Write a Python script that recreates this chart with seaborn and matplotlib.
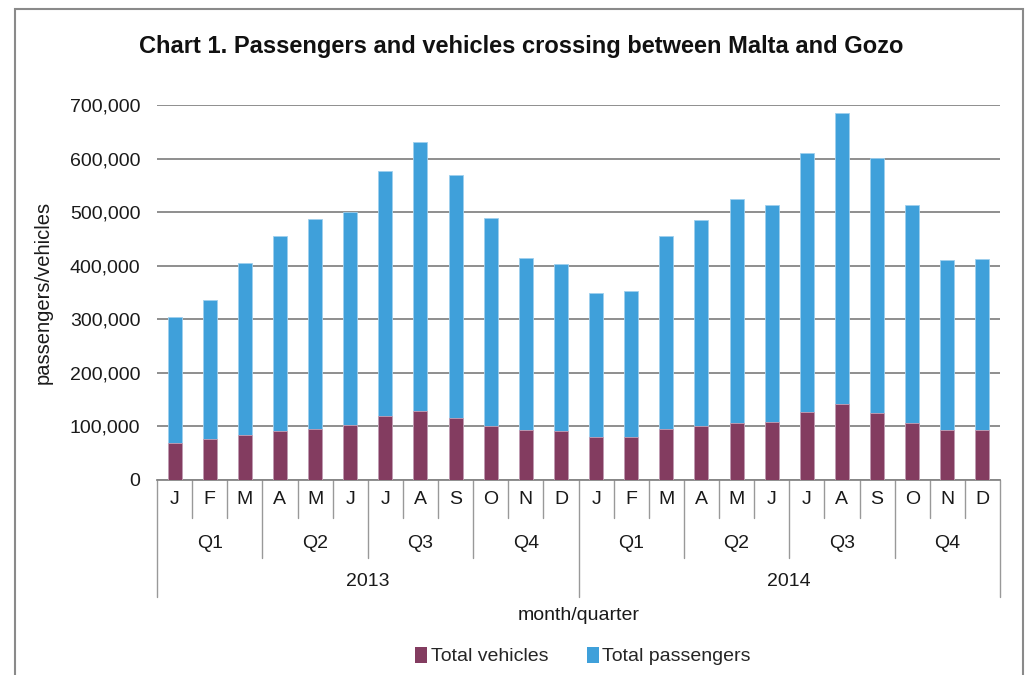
import matplotlib
matplotlib.use("Agg")
import matplotlib.pyplot as plt
import seaborn as sns
import pandas as pd
import numpy as np
from matplotlib.patches import Rectangle, Patch
from matplotlib.lines import Line2D
from matplotlib import font_manager

months = ["J", "F", "M", "A", "M", "J", "J", "A", "S", "O", "N", "D"] * 2
quarters = ["Q1", "Q2", "Q3", "Q4"]
years = ["2013", "2014"]
vehicles = [70000, 76000, 84000, 91000, 95000, 102000, 120000, 129000, 116000, 100000, 93000, 91000,
            80000, 81000, 96000, 100000, 107000, 108000, 127000, 142000, 125000, 106000, 94000, 94000]
totals_top = [305000, 336000, 405000, 455000, 487000, 500000, 577000, 631000, 569000, 490000, 415000, 403000,
              350000, 352000, 455000, 485000, 525000, 514000, 611000, 686000, 601000, 513000, 411000, 413000]
passengers = [t - v for t, v in zip(totals_top, vehicles)]

sns.set_theme(style="white")
names = {f.name for f in font_manager.fontManager.ttflist}
fam = "Liberation Sans Narrow" if "Liberation Sans Narrow" in names else "Liberation Sans"
plt.rcParams["font.family"] = [fam, "DejaVu Sans"]

C_VEH = "#833C60"
C_PAS = "#3FA0DA"
GRID = "#868686"
TXT = "#1a1a1a"
FS = 14

fig = plt.figure(figsize=(10.3, 6.75), dpi=100)
ax = fig.add_axes([157/1030, 1-480/675, (1000-157)/1030, 375/675])

idx = [f"{i}" for i in range(len(months))]
df = pd.DataFrame({"k": idx, "veh": vehicles, "pas": passengers})
df["tot"] = df["veh"] + df["pas"]

sns.barplot(data=df, x="k", y="tot", color=C_PAS, width=0.4, saturation=1,
            edgecolor="#9fd0ee", linewidth=0.6, ax=ax, zorder=2)
sns.barplot(data=df, x="k", y="veh", color=C_VEH, width=0.4, saturation=1,
            edgecolor="#c9a0b4", linewidth=0.6, ax=ax, zorder=3)

ax.set_xlim(-0.5, len(months) - 0.5)
ax.set_ylim(0, 700000)
ax.set_yticks(np.arange(0, 700001, 100000))
ax.set_yticklabels([f"{int(v):,}" for v in np.arange(0, 700001, 100000)], fontsize=FS, color=TXT)
ax.yaxis.grid(True, color=GRID, linewidth=1.3, zorder=0)
ax.set_axisbelow(True)
ax.tick_params(axis="y", length=0, pad=12)
ax.set_xticks([])
ax.set_xlabel("")
ax.set_ylabel("passengers/vehicles", fontsize=FS + 0.5, color=TXT, labelpad=12)
for s in ["left", "right", "top"]:
    ax.spines[s].set_visible(False)
ax.spines["bottom"].set_color(GRID)
ax.spines["bottom"].set_linewidth(1.3)

trans = ax.get_xaxis_transform()
H = 375.0
row_m = -38 / H
row_q = -78 / H
row_y = -117 / H
lc = "#999999"
for i in range(len(months) + 1):
    b = i - 0.5
    if i % 12 == 0:
        y1 = row_y
    elif i % 3 == 0:
        y1 = row_q
    else:
        y1 = row_m
    ax.add_line(Line2D([b, b], [0, y1], transform=trans, color=lc, lw=1, clip_on=False))
for i, m in enumerate(months):
    ax.text(i, -20 / H, m, transform=trans, ha="center", va="center", fontsize=FS, color=TXT)
for yi in range(2):
    for qi, q in enumerate(quarters):
        c = yi * 12 + qi * 3 + 1
        ax.text(c, -64 / H, q, transform=trans, ha="center", va="center", fontsize=FS, color=TXT)
    ax.text(yi * 12 + 5.5, -102 / H, years[yi], transform=trans, ha="center", va="center",
            fontsize=FS, color=TXT)
ax.text(11.5, -136 / H, "month/quarter", transform=trans, ha="center", va="center",
        fontsize=FS, color=TXT)

fig.text(521/1030, 1 - 46/675, "Chart 1. Passengers and vehicles crossing between Malta and Gozo",
         ha="center", va="center", fontsize=17, fontweight="bold", color="#111111")

handles = [Patch(facecolor=C_VEH, edgecolor="none"), Patch(facecolor=C_PAS, edgecolor="none")]
fig.legend(handles, ["Total vehicles", "Total passengers"], loc="center", ncol=2,
           bbox_to_anchor=(583/1030, 1 - 656/675), frameon=False, fontsize=FS,
           handlelength=0.6, handleheight=0.9, handletextpad=0.2, columnspacing=2.0)

fig.patches.append(Rectangle((15/1030, -0.05), (1023-15)/1030, 1.05 - 9/675,
                             transform=fig.transFigure, fill=False, edgecolor="#8a8a8a", lw=1.5))

fig.savefig("out.png", dpi=100)
